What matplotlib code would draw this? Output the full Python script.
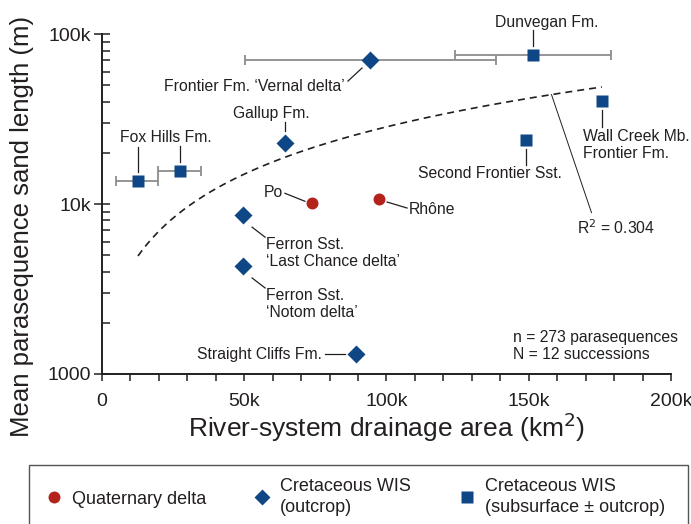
import matplotlib
matplotlib.use("Agg")
import matplotlib.pyplot as plt
from matplotlib.lines import Line2D
from matplotlib.patches import Rectangle
from matplotlib.transforms import ScaledTranslation
import numpy as np

plt.rcParams["font.family"] = ["Liberation Sans", "DejaVu Sans"]

# Quaternary deltas
quat_names = ["Po", "Rhône"]
quat_x = [73.8e3, 97.4e3]
quat_y = [10.1e3, 10.7e3]

# Cretaceous WIS, outcrop
out_names = ["Gallup", "Vernal", "LastChance", "Notom", "StraightCliffs"]
out_x = [64.3e3, 94.2e3, 49.6e3, 49.6e3, 89.3e3]
out_y = [22.8e3, 70.3e3, 8.6e3, 4.32e3, 1.31e3]
out_xmin = [None, 50.3e3, None, None, None]
out_xmax = [None, 138.5e3, None, None, None]

# Cretaceous WIS, subsurface +- outcrop
sub_names = ["FoxHills1", "FoxHills2", "Dunvegan", "WallCreek", "SecondFrontier"]
sub_x = [12.65e3, 27.4e3, 151.5e3, 175.7e3, 149.0e3]
sub_y = [13.6e3, 15.6e3, 75.2e3, 40.4e3, 23.8e3]
sub_xmin = [4.9e3, 19.7e3, 124.1e3, None, None]
sub_xmax = [19.7e3, 34.8e3, 178.9e3, None, None]

# where the R^2 leader meets the trend line
r2_x = 158e3

# label text, text offset (px, image orientation), ha, leader offsets
labels = {
    "FoxHills2": ("Fox Hills Fm.", (-14, -34), "center", ((0, -25), (0, -9))),
    "FoxHills1": (None, None, None, ((0, -34), (0, -9))),
    "Gallup": ("Gallup Fm.", (-14, -30), "center", ((0, -21), (0, -12))),
    "Vernal": ("Frontier Fm. ‘Vernal delta’", (-25, 26), "right", ((-22, 21), (-8, 8))),
    "Dunvegan": ("Dunvegan Fm.", (14, -33), "center", ((0, -25), (0, -9))),
    "WallCreek": ("Wall Creek Mb.\nFrontier Fm.", (-19, 44), "left", ((0, 9), (0, 26))),
    "SecondFrontier": ("Second Frontier Sst.", (-108, 33), "left", ((0, 9), (0, 25))),
    "Po": ("Po", (-29, -11), "right", ((-27, -10), (-7, -2))),
    "Rhône": ("Rhône", (30, 10), "left", ((8, 3), (28, 9))),
    "LastChance": ("Ferron Sst.\n‘Last Chance delta’", (23, 38), "left", ((9, 12), (22, 22))),
    "Notom": ("Ferron Sst.\n‘Notom delta’", (23, 38), "left", ((9, 12), (22, 22))),
    "StraightCliffs": ("Straight Cliffs Fm.", (-34, 0), "right", ((-31, 0), (-11, 0))),
}

blue = "#0f4685"
red = "#b3231b"
grey = "#8c8c8c"
ink = "#231f20"

fig = plt.figure(figsize=(6.91, 5.24), dpi=100)
ax = fig.add_axes([0.1476, 0.2863, 0.8234, 0.6487])

def errbars(xs, ys, lo, hi):
    for x, y, a, b in zip(xs, ys, lo, hi):
        if a is None:
            continue
        ax.errorbar([x], [y], xerr=[[x - a], [b - x]], fmt="none", ecolor=grey,
                    elinewidth=1.3, capsize=3.8, capthick=1.3, zorder=2)

errbars(out_x, out_y, out_xmin, out_xmax)
errbars(sub_x, sub_y, sub_xmin, sub_xmax)

# linear least-squares fit over all successions, drawn on the log axis
all_x = np.array(quat_x + out_x + sub_x)
all_y = np.array(quat_y + out_y + sub_y)
slope, icept = np.polyfit(all_x, all_y, 1)
fit_x = np.linspace(all_x.min(), all_x.max(), 200)
ax.plot(fit_x, icept + slope * fit_x, color=ink, lw=1.2, linestyle=(0, (4.2, 3.0)), zorder=1)

ax.plot(quat_x, quat_y, "o", color=red, ms=8.6, mec="none", zorder=3)
ax.plot(out_x, out_y, "D", color=blue, ms=8.7, mec="none", zorder=3)
ax.plot(sub_x, sub_y, "s", color=blue, ms=8.6, mec="none", zorder=3)

def at(x, y):
    return fig.dpi_scale_trans + ScaledTranslation(x, y, ax.transData)

points = dict(zip(quat_names + out_names + sub_names, zip(all_x, all_y)))
for key, (txt, off, ha, leader) in labels.items():
    x, y = points[key]
    tr = at(x, y)
    (x1, y1), (x2, y2) = leader
    ax.add_line(Line2D([x1 / 100, x2 / 100], [-y1 / 100, -y2 / 100], transform=tr,
                       color=ink, lw=0.9, clip_on=False))
    if txt:
        ax.text(off[0] / 100, -off[1] / 100, txt, transform=tr, ha=ha, va="center",
                fontsize=11.3, color=ink, linespacing=1.2)

# R^2 leader from the trend line
tr = at(r2_x, icept + slope * r2_x)
ax.add_line(Line2D([0, 0.40], [0, -1.18], transform=tr, color=ink, lw=0.7, clip_on=False))
ax.text(0.26, -1.33, r"R$^2$ = 0.304", transform=tr, ha="left", va="center",
        fontsize=11.3, color=ink)

ax.text(0.722, 0.082, "n = 273 parasequences\nN = 12 successions", transform=ax.transAxes,
        ha="left", va="center", fontsize=11.3, color=ink, linespacing=1.15)

ax.set_yscale("log")
ax.set_xlim(0, 200e3)
ax.set_ylim(1000, 100e3)
ax.set_xticks([0, 50e3, 100e3, 150e3, 200e3])
ax.set_xticklabels(["0", "50k", "100k", "150k", "200k"])
ax.set_xticks(np.arange(0, 200001, 10e3), minor=True)
ax.set_yticks([1000, 10e3, 100e3])
ax.set_yticklabels(["1000", "10k", "100k"])
ax.set_yticks([v * d for d in (1000, 10000) for v in range(2, 10)], minor=True)
ax.yaxis.set_minor_formatter(plt.NullFormatter())

for s in ("top", "right"):
    ax.spines[s].set_visible(False)
for s in ("left", "bottom"):
    ax.spines[s].set_linewidth(1.4)
    ax.spines[s].set_color(ink)
ax.tick_params(axis="x", which="both", direction="out", length=5, width=1.1,
               colors=ink, labelsize=14, pad=9)
ax.tick_params(axis="y", which="major", direction="inout", length=12, width=1.1,
               colors=ink, labelsize=14, pad=2)
ax.tick_params(axis="y", which="minor", direction="in", length=6, width=1.1, colors=ink)

ax.set_xlabel(r"River-system drainage area (km$^{2}$)", fontsize=19, color=ink, labelpad=0)
ax.set_ylabel("Mean parasequence sand length (m)", fontsize=18.5, color=ink)
ax.yaxis.label.set_va("center")
ax.yaxis.set_label_coords(-0.1406, 0.435)

# legend in an open-bottom box
fig.patches.append(Rectangle((29 / 691, -0.05), 659 / 691, 0.05 + 59 / 524,
                             transform=fig.transFigure, fill=False,
                             edgecolor="#555555", lw=1.0))
handles = [
    Line2D([], [], marker="o", ls="none", color=red, ms=8.6, mec="none"),
    Line2D([], [], marker="D", ls="none", color=blue, ms=8.4, mec="none"),
    Line2D([], [], marker="s", ls="none", color=blue, ms=8.2, mec="none"),
]
names = ["Quaternary delta", "Cretaceous WIS\n(outcrop)", "Cretaceous WIS\n(subsurface ± outcrop)"]
leg = fig.legend(handles, names, ncol=3, loc="center left",
                 bbox_to_anchor=(45 / 691, 1 - 497 / 524),
                 fontsize=13, frameon=False, handlelength=1.0,
                 handletextpad=0.5, columnspacing=2.6, borderpad=0,
                 borderaxespad=0, labelspacing=0.3)
for t in leg.get_texts():
    t.set_color(ink)
    t.set_linespacing(1.25)

fig.savefig("out.png", dpi=100)
